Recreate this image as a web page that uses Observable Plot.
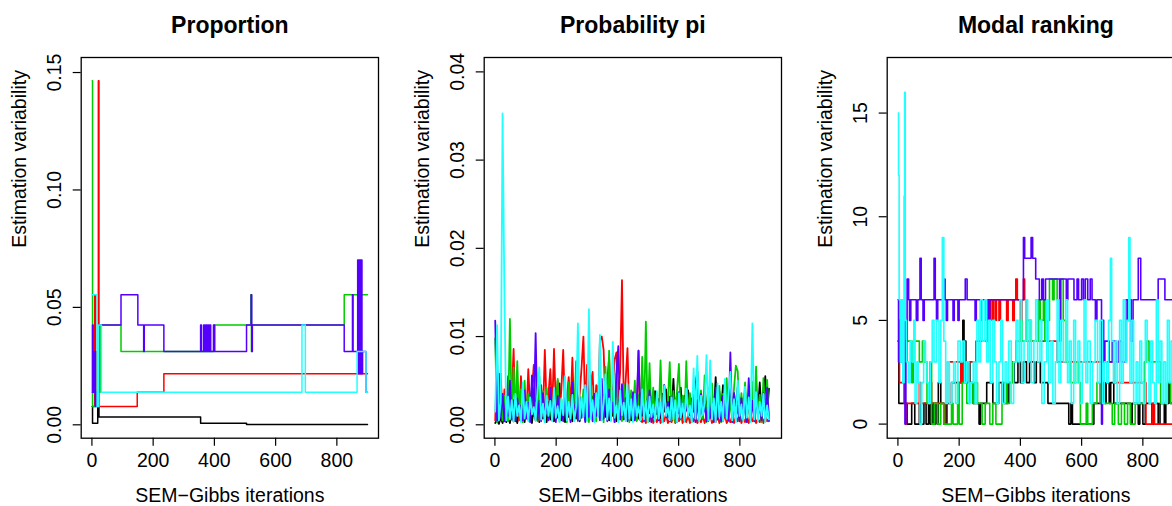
<!DOCTYPE html>
<html><head><meta charset="utf-8">
<script src="https://cdn.jsdelivr.net/npm/d3@7"></script>
<script src="https://cdn.jsdelivr.net/npm/@observablehq/plot@0.6"></script>
<style>
body{margin:0;background:#fff;overflow:hidden;width:1172px;height:506px}
#row{display:flex;width:1209px}
svg{font-family:"Liberation Sans",Arial,Helvetica,sans-serif;flex:none}
</style></head><body><div id="row"></div>
<script>
// ---------- shared ----------
const seriesNames = ["black","red","green","blue","cyan"];
const seriesColors = ["#000000","#FF0000","#00CD00","#5500FF","#22FFFF"];
const xTicks = [0,200,400,600,800];
const panelTitles = ["Proportion","Probability pi","Modal ranking"];
const yLabel = "Estimation variability";
const xLabel = "SEM\u2212Gibbs iterations";

// ---------- panel 1: Proportion (change points [iteration, value]) ----------
const propTicks = [0,0.05,0.10,0.15];
const propBlack = [[1,0.0078],[2,0.0007],[19,0.0078],[23,0.0033],[355,0.0007],[505,0.0001],[900,0.0001]];
const propRed = [[1,0.0078],[9,0.0554],[12,0.0312],[14,0.0139],[21,0.1465],[23,0.0078],[148,0.0139],[235,0.0217],[900,0.0217]];
const propGreen = [[1,0.1465],[2,0.0078],[24,0.0139],[27,0.0425],[95,0.0312],[400,0.0425],[519,0.0554],[521,0.0312],[523,0.0425],[824,0.0554],[900,0.0554]];
const propBlue = [[1,0.0139],[2,0.0425],[4,0.0139],[8,0.0312],[11,0.0078],[14,0.0139],[24,0.0425],[95,0.0554],[150,0.0425],[169,0.0312],[171,0.0425],[235,0.0312],[355,0.0425],[358,0.0312],[365,0.0425],[368,0.0312],[372,0.0425],[375,0.0312],[378,0.0425],[381,0.0312],[385,0.0425],[388,0.0312],[397,0.0425],[401,0.0312],[505,0.0425],[520,0.0554],[522,0.0312],[524,0.0425],[824,0.0312],[851,0.0554],[853,0.0312],[868,0.0702],[870,0.0217],[872,0.0702],[874,0.0217],[876,0.0702],[878,0.0217],[880,0.0702],[882,0.0217],[884,0.0312],[895,0.0139],[900,0.0139]];
const propCyan = [[1,0.0554],[17,0.0078],[22,0.0425],[31,0.0139],[686,0.0425],[697,0.0139],[866,0.0312],[895,0.0139],[900,0.0139]];

// ---------- panel 2: Probability pi (values in thousandths, every 6 iterations from 1) ----------
const piTicks = [0,0.01,0.02,0.03,0.04];
const piStep = 6;
const piBlack = [0.2,0.5,0.1,0.8,0.2,1.2,0.3,1.0,0.2,1.5,0.4,1.1,0.2,1.8,0.5,1.3,0.3,2.0,0.6,1.4,0.2,2.2,0.5,1.6,0.3,2.4,0.7,1.5,0.3,2.6,0.6,1.8,0.4,2.3,0.8,4.7,0.5,2.1,0.3,2.8,0.9,1.7,0.4,2.5,0.7,3.0,0.4,2.2,1.0,2.9,0.5,2.4,0.8,3.2,0.4,2.0,1.1,2.8,0.6,3.4,0.9,2.3,0.5,3.1,1.0,2.6,0.4,3.5,1.2,2.4,0.6,3.0,0.9,2.7,0.5,3.3,1.1,2.5,0.7,3.6,1.0,2.8,0.6,3.4,1.3,3.1,0.8,3.8,1.2,2.9,0.7,3.5,1.5,4.0,0.9,3.2,1.4,5.2,1.0,3.6,1.3,4.2,0.8,3.3,1.6,3.9,1.1,3.0,1.5,4.4,6.1,1.2,3.7,1.0,3.2,1.6,4.1,0.9,3.5,1.4,5.4,1.1,3.8,1.7,4.5,1.0,3.4,1.5,4.0,0.8,3.6,1.3,4.3,1.0,3.1,1.6,3.9,0.9,3.3,1.4,4.6,1.1,3.7,1.5,4.8,1.2,3.5,5.5,1.3,4.1];
const piRed = [0.5,7.3,1.0,5.8,0.5,4.0,1.0,5.5,0.8,3.0,8.6,1.0,4.5,0.5,5.5,1.0,3.5,1.0,6.3,2.0,4.0,6.8,1.0,3.0,0.5,4.5,1.0,8.5,2.0,3.5,6.3,1.5,8.6,2.0,5.0,1.0,4.0,8.5,1.5,3.0,5.4,2.0,7.6,1.0,4.0,2.0,3.5,6.5,10.0,1.5,6.8,2.0,4.0,6.0,1.0,4.5,2.0,9.6,10.0,8.5,2.0,5.0,7.6,1.5,4.0,7.4,8.2,3.0,6.0,16.4,2.0,5.0,8.7,1.0,3.0,1.0,2.0,0.5,8.4,0.5,0.3,1.2,0.2,0.9,0.4,1.5,0.2,0.7,0.3,1.1,0.2,0.8,0.4,1.3,0.2,0.6,0.3,1.0,0.2,0.9,0.4,1.4,0.2,0.7,0.3,1.1,0.2,0.8,0.4,1.2,0.2,0.6,0.3,1.0,0.2,0.9,0.4,1.3,0.2,0.7,0.3,1.1,0.2,0.8,0.4,1.2,0.2,0.6,0.3,1.0,0.2,0.9,0.4,1.4,0.2,0.7,0.3,1.1,0.2,0.8,0.4,1.2,0.2,0.6,0.3,1.0,0.2,0.9,0.4,0.7];
const piGreen = [9.8,0.3,1.0,4.2,0.5,3.3,1.0,0.4,12.0,0.8,6.5,0.5,7.2,1.0,4.0,0.3,5.0,1.2,3.5,0.6,4.5,1.0,2.5,0.4,5.5,0.9,3.8,0.3,4.2,1.1,2.6,0.5,3.6,1.0,5.2,0.4,2.9,0.8,3.5,0.3,4.8,1.0,2.4,0.6,7.2,0.4,3.2,1.0,4.0,0.5,2.8,0.3,5.6,1.0,3.0,0.4,4.4,0.9,3.6,0.3,6.6,1.0,8.4,0.5,3.8,0.3,5.8,0.8,3.0,0.4,4.6,1.2,2.5,0.3,3.9,1.0,5.0,0.4,3.4,0.7,7.7,0.5,11.7,0.3,7.0,1.0,4.2,0.4,3.0,0.8,7.3,0.3,4.5,1.1,2.6,7.1,0.5,3.8,0.3,4.0,6.9,0.6,3.3,0.4,7.2,0.9,3.6,0.3,4.1,1.0,2.8,0.4,3.9,0.7,5.6,0.3,3.2,1.0,4.7,0.4,2.9,0.8,4.4,0.3,3.5,1.0,5.3,0.5,3.0,0.3,4.2,6.7,6.1,0.4,3.6,1.0,4.8,0.3,3.1,0.7,4.9,0.4,6.6,0.9,3.4,0.3,5.3,1.0,5.1,0.5];
const piBlue = [11.8,0.5,5.8,0.8,3.5,0.4,3.2,1.0,5.0,0.6,2.8,0.4,3.0,1.2,2.2,0.5,3.9,0.7,2.5,0.3,5.6,1.0,10.4,0.6,2.7,0.4,3.6,1.1,2.0,0.5,4.2,0.8,2.9,0.3,3.3,1.0,2.4,0.4,3.9,0.7,2.2,0.3,4.8,1.0,2.6,0.5,3.1,0.8,2.0,0.3,4.4,0.9,2.7,0.4,3.5,1.0,2.3,0.5,5.2,0.7,2.8,0.4,4.0,1.1,2.5,0.3,6.0,8.9,0.6,4.6,0.8,3.0,0.4,2.4,1.0,3.7,0.5,2.1,8.4,0.6,3.2,0.4,2.5,1.0,3.9,0.3,2.2,0.8,3.4,0.5,2.0,0.3,4.5,0.9,2.6,0.4,3.2,1.0,2.1,0.3,3.7,0.7,2.4,0.4,3.0,1.0,2.2,0.5,4.0,0.3,2.8,0.6,3.5,1.1,2.3,0.4,3.1,0.8,2.6,0.3,4.2,0.6,2.0,0.4,3.3,1.0,2.5,0.5,8.2,0.3,3.6,0.7,2.2,0.4,3.0,1.0,2.4,0.3,5.3,0.6,2.7,0.4,3.2,1.0,2.1,0.5,3.6,0.8,4.2,0.4];
const piCyan = [1.5,11.3,0.5,2.5,35.3,14.8,0.5,3.2,0.6,2.8,0.4,3.5,1.0,2.2,0.3,4.8,0.7,2.6,0.4,3.1,1.2,2.0,0.5,3.8,6.5,0.6,2.4,0.3,3.3,1.0,2.7,0.4,4.2,0.8,2.1,0.3,3.0,1.1,5.5,0.5,2.6,0.7,3.4,0.4,2.0,11.5,0.6,3.1,0.9,4.5,0.4,13.1,0.7,2.8,0.3,3.6,1.0,10.2,0.5,2.4,5.7,0.6,3.0,0.4,9.4,0.8,2.2,0.3,3.9,1.1,2.5,0.4,4.6,0.7,2.9,0.3,3.5,1.0,2.1,0.5,4.0,0.6,2.7,0.3,3.2,0.9,2.3,0.4,3.8,0.7,2.6,0.3,4.4,1.0,2.0,0.5,3.1,0.6,2.8,0.3,3.6,0.8,2.4,0.4,4.1,1.0,2.2,0.3,6.4,0.7,7.8,0.4,3.3,1.1,2.5,7.9,0.5,7.3,0.6,3.0,0.3,4.7,0.9,2.6,0.4,5.2,0.7,3.4,6.0,0.5,2.9,0.3,5.0,1.0,2.3,0.4,4.3,0.8,3.1,0.3,11.5,0.6,3.7,0.4,2.6,1.0,3.5,0.3,2.2,0.6];

// ---------- panel 3: Modal ranking (change points [iteration, value]) ----------
const rankTicks = [0,5,10,15];
const rankBlack = [[1,4],[3,1],[30,0],[45,1],[55,0],[70,1],[75,0],[85,1],[92,0],[100,1],[105,0],[112,1],[118,0],[122,1],[128,0],[132,2],[140,1],[150,0],[160,1],[175,2],[212,5],[216,4],[222,3],[235,2],[245,1],[265,0],[270,1],[290,2],[310,1],[330,2],[345,1],[360,2],[372,3],[380,2],[392,3],[400,2],[410,3],[420,2],[430,3],[445,2],[452,3],[465,2],[490,1],[558,0],[565,1],[570,0],[640,1],[670,2],[675,1],[680,2],[690,1],[695,2],[705,1],[760,0],[765,1],[785,0],[790,1],[800,0],[808,1],[830,0],[835,1],[850,0],[856,1],[870,0],[875,1],[885,2],[890,1],[900,1]];
const rankRed = [[1,4],[3,3],[5,2],[20,1],[25,0],[28,1],[70,2],[75,1],[105,2],[110,1],[150,0],[155,1],[162,3],[205,2],[210,3],[220,2],[230,3],[255,4],[292,6],[298,5],[302,6],[308,5],[312,6],[318,5],[322,6],[330,5],[335,6],[355,5],[360,6],[375,5],[380,6],[385,7],[390,6],[400,5],[405,6],[410,7],[414,6],[418,4],[520,3],[705,2],[810,0],[832,1],[838,0],[900,0]];
const rankGreen = [[1,6],[3,4],[10,3],[15,4],[25,3],[30,4],[45,2],[50,4],[70,3],[80,4],[85,3],[95,1],[105,3],[110,0],[120,1],[130,0],[140,1],[150,0],[175,1],[180,0],[195,2],[200,0],[210,2],[225,1],[235,2],[245,1],[250,2],[260,1],[275,0],[285,1],[300,0],[310,1],[320,0],[340,2],[355,1],[365,2],[375,3],[385,4],[400,5],[405,4],[420,5],[435,4],[460,6],[465,5],[475,6],[480,4],[490,5],[495,7],[505,6],[510,7],[520,6],[530,7],[540,5],[548,3],[565,2],[580,3],[590,2],[596,0],[615,1],[620,0],[635,1],[650,2],[660,1],[700,0],[708,1],[720,0],[730,1],[740,0],[750,1],[760,0],[775,1],[805,3],[812,4],[820,3],[858,1],[880,2],[890,1],[900,1]];
const rankBlue = [[1,6],[2,3],[5,5],[10,6],[15,3],[20,5],[23,0],[26,4],[30,7],[35,6],[38,5],[42,6],[60,5],[65,6],[72,8],[76,6],[82,5],[86,6],[118,8],[122,6],[126,5],[130,6],[150,7],[154,6],[158,5],[162,6],[180,5],[184,6],[196,5],[200,6],[220,7],[226,6],[252,5],[256,6],[270,5],[274,6],[288,5],[292,6],[296,5],[300,6],[410,9],[414,8],[435,9],[440,8],[450,7],[462,6],[470,7],[475,6],[482,7],[528,4],[532,7],[550,6],[555,7],[575,6],[585,7],[590,6],[600,7],[606,6],[612,7],[620,6],[628,7],[634,6],[645,5],[650,6],[665,0],[668,5],[672,3],[676,4],[690,3],[700,4],[712,3],[722,4],[730,3],[744,6],[750,5],[756,6],[762,4],[768,6],[785,8],[793,6],[850,7],[872,6],[900,6]];
const rankCyan = [[1,15],[2,12],[4,6],[8,3],[12,6],[16,2],[20,11],[22,16],[24,5],[28,3],[34,2],[40,4],[46,3],[52,5],[56,1],[62,3],[66,2],[72,0],[78,2],[84,4],[90,3],[95,2],[100,1],[106,3],[112,5],[118,3],[126,5],[134,2],[140,5],[145,9],[150,4],[156,1],[162,3],[168,1],[176,2],[182,3],[188,1],[196,4],[204,3],[212,4],[218,2],[224,3],[232,1],[238,2],[246,3],[252,1],[258,5],[264,3],[270,6],[276,4],[284,6],[290,3],[296,5],[302,2],[310,5],[316,3],[322,1],[330,3],[336,5],[342,1],[350,3],[356,2],[362,4],[370,1],[378,3],[386,5],[392,3],[398,6],[404,2],[412,4],[418,6],[424,3],[430,5],[436,2],[444,4],[450,6],[456,3],[464,5],[470,1],[478,3],[486,6],[492,2],[500,4],[506,1],[514,3],[520,6],[526,2],[532,5],[540,3],[548,6],[554,2],[560,4],[566,1],[574,5],[580,2],[588,4],[594,1],[602,3],[608,6],[614,2],[620,4],[628,1],[636,3],[644,5],[652,2],[660,5],[668,1],[674,3],[682,2],[688,5],[694,8],[698,4],[704,2],[710,4],[716,1],[724,5],[730,2],[736,6],[742,3],[748,5],[754,9],[758,2],[764,5],[770,1],[778,3],[784,1],[790,4],[796,2],[802,1],[808,5],[814,3],[820,1],[826,4],[832,2],[838,1],[844,6],[850,2],[856,4],[862,1],[868,3],[874,1],[880,5],[886,2],[892,4],[900,2]];

// ---------- build tables ----------
const pairs = arr => arr.map(([x, y]) => ({x, y}));
const permille = arr => arr.map((v, i) => ({x: 1 + piStep * i, y: v / 1000}));

const panels = [
  {title: panelTitles[0], curve: "step-after", sw: 1.5, yDomain: [-0.0057, 0.1564], yTicks: propTicks, fmt: d3.format(".2f"),
   series: [propBlack, propRed, propGreen, propBlue, propCyan].map(pairs)},
  {title: panelTitles[1], curve: "linear", sw: 1.8, yDomain: [-0.00152, 0.04163], yTicks: piTicks, fmt: d3.format(".2f"),
   series: [piBlack, piRed, piGreen, piBlue, piCyan].map(permille)},
  {title: panelTitles[2], curve: "step-after", sw: 1.6, yDomain: [-0.68, 17.68], yTicks: rankTicks, fmt: d => String(d),
   series: [rankBlack, rankRed, rankGreen, rankBlue, rankCyan].map(pairs)}
];

const row = document.getElementById("row");
for (const p of panels) {
  const marks = p.series.map((data, k) =>
    Plot.line(data, {x: "x", y: "y", stroke: seriesColors[k], strokeWidth: p.sw, curve: p.curve}));
  marks.push(
    Plot.frame({stroke: "black", strokeWidth: 1.3}),
    Plot.axisX({ticks: xTicks, tickSize: 8, tickPadding: 7, tickFormat: d => String(d), label: null, strokeWidth: 1.2}),
    Plot.axisY({ticks: p.yTicks, tickSize: 8, tickPadding: 12, tickRotate: -90, tickFormat: p.fmt, label: null, strokeWidth: 1.2}),
    Plot.text([p.title], {text: d => d, frameAnchor: "top", dy: -41, fontSize: 23, fontWeight: "bold"}),
    Plot.text([yLabel], {text: d => d, frameAnchor: "left", dx: -61, rotate: -90}),
    Plot.text([xLabel], {text: d => d, frameAnchor: "bottom", dy: 64})
  );
  const chart = Plot.plot({
    width: 403, height: 506,
    marginLeft: 80.7, marginRight: 25, marginTop: 57, marginBottom: 68.3,
    x: {domain: [-35, 936], label: null},
    y: {domain: p.yDomain, label: null},
    style: {fontSize: "19.5px", fontFamily: "'Liberation Sans', Arial, sans-serif", background: "white", color: "black", overflow: "visible"},
    marks
  });
  row.appendChild(chart);
}
</script></body></html>
